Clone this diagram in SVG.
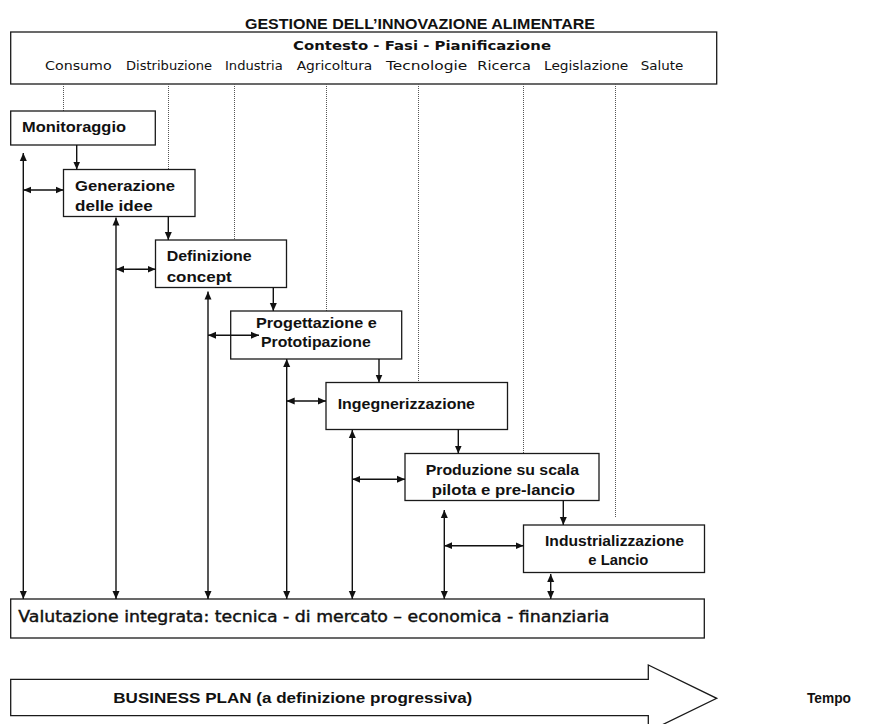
<svg xmlns="http://www.w3.org/2000/svg" width="869" height="724" viewBox="0 0 869 724">
<defs>
<style>
.box{fill:#fff;stroke:#1a1a1a;stroke-width:1.3}
.lbl{font-family:"Liberation Sans",Arial,sans-serif;font-weight:bold;font-size:15px;fill:#111}
.cg{font-family:"DejaVu Sans","Liberation Sans",sans-serif;fill:#111}
.cat{font-size:12px}
.dot{stroke:#555;stroke-width:1;stroke-dasharray:1 1;fill:none}
.c{stroke:#111;stroke-width:1.4;fill:none}
.one{marker-end:url(#ah)}
.two{marker-start:url(#ah);marker-end:url(#ah)}
</style>
<marker id="ah" markerUnits="userSpaceOnUse" markerWidth="8" markerHeight="8" viewBox="0 0 8 8" refX="8" refY="4" orient="auto-start-reverse">
<path d="M0,0.5 L8,4 L0,7.5 z" fill="#111"/>
</marker>
</defs>

<text x="245" y="29" class="lbl" font-size="16" textLength="350" lengthAdjust="spacingAndGlyphs">GESTIONE DELL’INNOVAZIONE ALIMENTARE</text>

<g id="contesto">
<rect class="box" x="10.7" y="32" width="706" height="52"/>
<text x="293" y="50" class="cg" font-size="13" font-weight="bold" textLength="258" lengthAdjust="spacingAndGlyphs">Contesto - Fasi - Pianificazione</text>
<g class="cg cat">
<text x="45" y="70" textLength="66.7" lengthAdjust="spacingAndGlyphs">Consumo</text>
<text x="126" y="70" textLength="86" lengthAdjust="spacingAndGlyphs">Distribuzione</text>
<text x="225" y="70" textLength="57.7" lengthAdjust="spacingAndGlyphs">Industria</text>
<text x="296.7" y="70" textLength="75.6" lengthAdjust="spacingAndGlyphs">Agricoltura</text>
<text x="386" y="70" textLength="81.3" lengthAdjust="spacingAndGlyphs">Tecnologie</text>
<text x="477.3" y="70" textLength="53.7" lengthAdjust="spacingAndGlyphs">Ricerca</text>
<text x="544" y="70" textLength="84.3" lengthAdjust="spacingAndGlyphs">Legislazione</text>
<text x="640.7" y="70" textLength="42.6" lengthAdjust="spacingAndGlyphs">Salute</text>
</g>
</g>

<g id="dotted">
<line class="dot" x1="63.5" y1="84" x2="63.5" y2="111"/>
<line class="dot" x1="168.5" y1="84" x2="168.5" y2="169"/>
<line class="dot" x1="234.5" y1="84" x2="234.5" y2="240"/>
<line class="dot" x1="326.5" y1="84" x2="326.5" y2="311"/>
<line class="dot" x1="418.5" y1="84" x2="418.5" y2="382"/>
<line class="dot" x1="523.5" y1="84" x2="523.5" y2="453"/>
<line class="dot" x1="615.5" y1="84" x2="615.5" y2="518"/>
</g>

<g id="monitoraggio">
<rect class="box" x="10.7" y="111" width="144.6" height="34"/>
<text x="22" y="132" class="lbl" textLength="104" lengthAdjust="spacingAndGlyphs">Monitoraggio</text>
</g>
<g id="generazione">
<rect class="box" x="63.5" y="169.5" width="131.5" height="47"/>
<text x="75" y="191" class="lbl" textLength="100" lengthAdjust="spacingAndGlyphs">Generazione</text>
<text x="75" y="211" class="lbl" textLength="77.7" lengthAdjust="spacingAndGlyphs">delle idee</text>
</g>
<g id="definizione">
<rect class="box" x="155.5" y="240" width="131" height="47.5"/>
<text x="166.7" y="261" class="lbl" textLength="85" lengthAdjust="spacingAndGlyphs">Definizione</text>
<text x="166.7" y="281.5" class="lbl" textLength="65" lengthAdjust="spacingAndGlyphs">concept</text>
</g>
<g id="progettazione">
<rect class="box" x="230.7" y="311" width="171" height="48"/>
<text x="256" y="327.5" class="lbl" textLength="120.7" lengthAdjust="spacingAndGlyphs">Progettazione e</text>
<text x="261" y="347" class="lbl" textLength="109.7" lengthAdjust="spacingAndGlyphs">Prototipazione</text>
</g>
<g id="ingegnerizzazione">
<rect class="box" x="326" y="382.5" width="181.5" height="47"/>
<text x="337.7" y="409" class="lbl" textLength="137.3" lengthAdjust="spacingAndGlyphs">Ingegnerizzazione</text>
</g>
<g id="produzione">
<rect class="box" x="405" y="453.5" width="194" height="47"/>
<text x="425.7" y="475" class="lbl" textLength="153.3" lengthAdjust="spacingAndGlyphs">Produzione su scala</text>
<text x="431.7" y="495" class="lbl" textLength="143.3" lengthAdjust="spacingAndGlyphs">pilota e pre-lancio</text>
</g>
<g id="industrializzazione">
<rect class="box" x="523.5" y="525" width="181" height="47.5"/>
<text x="545" y="545.5" class="lbl" textLength="139" lengthAdjust="spacingAndGlyphs">Industrializzazione</text>
<text x="588.3" y="565" class="lbl" textLength="60" lengthAdjust="spacingAndGlyphs">e Lancio</text>
</g>
<g id="valutazione">
<rect class="box" x="10.7" y="599" width="693.6" height="39"/>
<text x="18.3" y="622" class="cg" font-size="15" stroke="#111" stroke-width="0.4" textLength="591" lengthAdjust="spacingAndGlyphs">Valutazione integrata: tecnica - di mercato – economica - finanziaria</text>
</g>
<g id="business-plan">
<polygon points="10.7,679.3 648.3,679.3 648.3,665 716.7,698.3 648.3,731.6 648.3,715.7 10.7,715.7" fill="#fff" stroke="#1a1a1a" stroke-width="1.3"/>
<text x="113.3" y="702.5" class="lbl" font-size="14.5" textLength="359" lengthAdjust="spacingAndGlyphs">BUSINESS  PLAN  (a definizione progressiva)</text>
</g>
<g id="tempo">
<text x="807" y="702.5" class="lbl" font-size="15" textLength="44" lengthAdjust="spacingAndGlyphs">Tempo</text>
</g>

<g id="connectors">
<line class="c one" x1="76.7" y1="145" x2="76.7" y2="169.5"/>
<line class="c one" x1="168.3" y1="216.5" x2="168.3" y2="240"/>
<line class="c one" x1="273.3" y1="287.5" x2="273.3" y2="311"/>
<line class="c one" x1="379" y1="359" x2="379" y2="382.5"/>
<line class="c one" x1="458.3" y1="429.5" x2="458.3" y2="453.5"/>
<line class="c one" x1="563.3" y1="500.5" x2="563.3" y2="525"/>

<line class="c two" x1="23.3" y1="153" x2="23.3" y2="599"/>
<line class="c two" x1="116" y1="217.5" x2="116" y2="599"/>
<line class="c two" x1="208" y1="291.5" x2="208" y2="599"/>
<line class="c two" x1="286.7" y1="359" x2="286.7" y2="599"/>
<line class="c two" x1="352.3" y1="430" x2="352.3" y2="599"/>
<line class="c two" x1="444.3" y1="510" x2="444.3" y2="599"/>
<line class="c two" x1="550.7" y1="574" x2="550.7" y2="599"/>

<line class="c two" x1="23.3" y1="190" x2="63.5" y2="190"/>
<line class="c two" x1="116" y1="269.3" x2="155.5" y2="269.3"/>
<line class="c two" x1="208" y1="335.3" x2="259" y2="335.3"/>
<line class="c two" x1="286.7" y1="401" x2="326" y2="401"/>
<line class="c two" x1="352.3" y1="479.3" x2="405" y2="479.3"/>
<line class="c two" x1="444.3" y1="545.7" x2="523.5" y2="545.7"/>
</g>
</svg>
